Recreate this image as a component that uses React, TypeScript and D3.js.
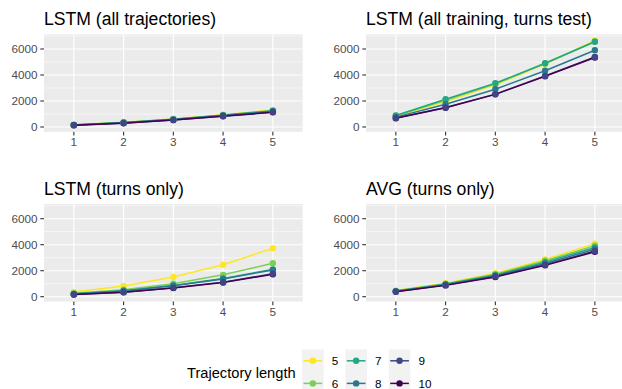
import React from "react";
import * as d3 from "d3";

// Prediction horizon steps (x axis) and trajectory lengths (colour groups)
const steps = [1, 2, 3, 4, 5];
const lengths = [5, 6, 7, 8, 9, 10];
const lengthColors = ["#FDE725", "#7AD151", "#22A884", "#2A788E", "#414487", "#440154"];

// y axis ticks
const yMajor = [0, 2000, 4000, 6000];
const yMinor = [1000, 3000, 5000, 7000];

// Panel titles
const panelTitles = [
  "LSTM (all trajectories)",
  "LSTM (all training, turns test)",
  "LSTM (turns only)",
  "AVG (turns only)",
];

// One row per trajectory length (5..10), one value per step (1..5)
const lstmAllValues = [
  [170, 360, 620, 950, 1300],
  [165, 350, 605, 925, 1270],
  [160, 340, 590, 900, 1240],
  [155, 330, 570, 875, 1210],
  [140, 300, 540, 840, 1150],
  [135, 290, 530, 825, 1130],
];

const lstmTurnsTestValues = [
  [820, 1950, 3250, 4850, 6650],
  [860, 2060, 3320, 4880, 6580],
  [880, 2130, 3360, 4900, 6560],
  [760, 1750, 2900, 4330, 5900],
  [690, 1500, 2530, 3930, 5380],
  [670, 1480, 2510, 3900, 5350],
];

const lstmTurnsOnlyValues = [
  [360, 820, 1520, 2460, 3720],
  [260, 530, 1000, 1680, 2570],
  [220, 460, 860, 1400, 2100],
  [210, 440, 840, 1360, 2060],
  [170, 350, 680, 1120, 1760],
  [160, 340, 660, 1090, 1720],
];

const avgTurnsOnlyValues = [
  [470, 1030, 1800, 2870, 4080],
  [450, 990, 1730, 2760, 3930],
  [430, 960, 1670, 2660, 3790],
  [410, 920, 1610, 2560, 3650],
  [390, 890, 1550, 2460, 3510],
  [380, 870, 1520, 2410, 3450],
];

const panelValues = [lstmAllValues, lstmTurnsTestValues, lstmTurnsOnlyValues, avgTurnsOnlyValues];

// Points are layered in the order the data rows come (string-sorted lengths)
const pointOrder = [10, 5, 6, 7, 8, 9];

const W = 622;
const H = 389;
const FONT = "'Liberation Sans', Arial, Helvetica, sans-serif";
const colLeft = [44, 366];
const rowTop = [34.3, 204];
const panelW = 258.7;
const panelH = 97.5;
const titleGap = 9.5;

const color = d3.scaleOrdinal<number, string>().domain(lengths).range(lengthColors);

function Panel({ idx }: { idx: number }) {
  const col = idx % 2;
  const row = Math.floor(idx / 2);
  const x0 = colLeft[col];
  const y0 = rowTop[row];
  const x = d3.scaleLinear().domain([0.4, 5.6]).range([x0, x0 + panelW]);
  const y = d3.scaleLinear().domain([-370, 7130]).range([y0 + panelH, y0]);
  const values = panelValues[idx];
  const line = d3
    .line<number>()
    .x((_, i) => x(steps[i]))
    .y((v) => y(v));
  const bottom = y0 + panelH;
  const clipId = `clip-${idx}`;

  return (
    <g>
      <defs>
        <clipPath id={clipId}>
          <rect x={x0} y={y0} width={panelW} height={panelH} />
        </clipPath>
      </defs>
      <text x={x0} y={y0 - titleGap} fontSize={17.6} fill="#000" fontFamily={FONT}>
        {panelTitles[idx]}
      </text>
      <rect x={x0} y={y0} width={panelW} height={panelH} fill="#EBEBEB" />
      <g clipPath={`url(#${clipId})`}>
        {yMinor.map((t) => (
          <line key={`mi${t}`} x1={x0} x2={x0 + panelW} y1={y(t)} y2={y(t)} stroke="#fff" strokeWidth={0.55} />
        ))}
        {yMajor.map((t) => (
          <line key={`ma${t}`} x1={x0} x2={x0 + panelW} y1={y(t)} y2={y(t)} stroke="#fff" strokeWidth={1.1} />
        ))}
        {steps.map((s) => (
          <line key={`v${s}`} x1={x(s)} x2={x(s)} y1={y0} y2={bottom} stroke="#fff" strokeWidth={1.1} />
        ))}
        {lengths.map((len, i) => (
          <path key={`l${len}`} d={line(values[i]) || ""} fill="none" stroke={color(len)} strokeWidth={1.5} />
        ))}
        {pointOrder.map((len) => {
          const i = lengths.indexOf(len);
          return values[i].map((v, j) => (
            <circle key={`p${len}-${j}`} cx={x(steps[j])} cy={y(v)} r={3.2} fill={color(len)} />
          ));
        })}
      </g>
      {/* y axis */}
      {yMajor.map((t) => (
        <g key={`yt${t}`}>
          <line x1={x0 - 3.67} x2={x0} y1={y(t)} y2={y(t)} stroke="#333" strokeWidth={1.1} />
          <text
            x={x0 - 6.6}
            y={y(t)}
            dy="0.35em"
            textAnchor="end"
            fontSize={11.7}
            fill="#4D4D4D"
            fontFamily={FONT}
          >
            {t}
          </text>
        </g>
      ))}
      {/* x axis */}
      {steps.map((s) => (
        <g key={`xt${s}`}>
          <line x1={x(s)} x2={x(s)} y1={bottom} y2={bottom + 3.67} stroke="#333" strokeWidth={1.1} />
          <text x={x(s)} y={bottom + 14.5} textAnchor="middle" fontSize={11.7} fill="#4D4D4D" fontFamily={FONT}>
            {s}
          </text>
        </g>
      ))}
    </g>
  );
}

function Legend() {
  const keyX = [302, 345.3, 388.7];
  const keyTop = 349.5;
  const keyW = 21.7;
  const keyH = 22.6;
  return (
    <g>
      <text x={187} y={377.5} fontSize={14.67} fill="#000" fontFamily={FONT}>
        Trajectory length
      </text>
      {lengths.map((len, i) => {
        const c = Math.floor(i / 2);
        const r = i % 2;
        const kx = keyX[c];
        const ky = keyTop + r * keyH;
        const cy = ky + keyH / 2;
        return (
          <g key={`lg${len}`}>
            <rect x={kx} y={ky} width={keyW} height={keyH} fill="#F2F2F2" />
            <line x1={kx + 1.5} x2={kx + keyW - 1.5} y1={cy} y2={cy} stroke={color(len)} strokeWidth={1.5} />
            <circle cx={kx + keyW / 2} cy={cy} r={3.2} fill={color(len)} />
            <text x={kx + 29.7} y={cy + 4.2} fontSize={11.7} fill="#000" fontFamily={FONT}>
              {len}
            </text>
          </g>
        );
      })}
    </g>
  );
}

export default function App() {
  return (
    <svg
      width={W}
      height={H}
      viewBox={`0 0 ${W} ${H}`}
      style={{ position: "absolute", left: 0, top: 0, background: "#fff" }}
    >
      <rect x={0} y={0} width={W} height={H} fill="#fff" />
      {panelTitles.map((_, i) => (
        <Panel key={i} idx={i} />
      ))}
      <Legend />
    </svg>
  );
}
